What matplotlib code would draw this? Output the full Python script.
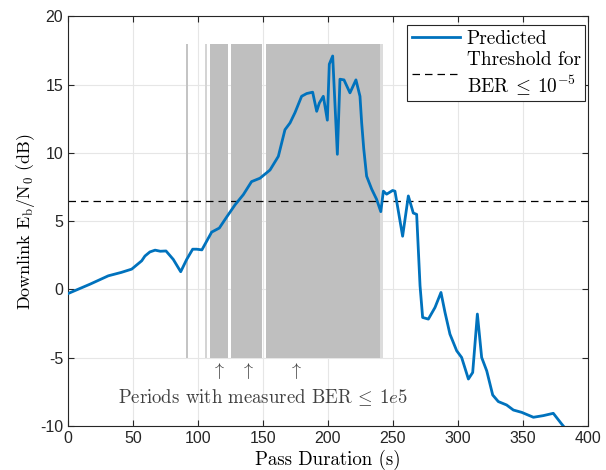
"""Predicted downlink Eb/N0 over a pass, with periods of measured low BER shaded."""
import matplotlib
matplotlib.use("Agg")
import matplotlib.pyplot as plt

plt.rcParams["mathtext.fontset"] = "cm"
plt.rcParams["axes.unicode_minus"] = False

# predicted Eb/N0 curve (s, dB)
t = [0, 17, 31, 41, 49, 56.7, 59.2, 63, 67, 71, 75.4, 81, 86.7, 91.3, 95.9, 99,
     103, 110.5, 116.4, 122, 128.5, 134.9, 141.2, 147.7, 155.4, 161.8, 166.9,
     170.8, 174.6, 179.7, 183.6, 188.2, 191.3, 193.3, 196.4, 199.5, 201.0, 203.6,
     207.2, 209.2, 212.3, 216.9, 221.5, 224.6, 225.9, 227.5, 229.7, 233.6, 237.4,
     240.6, 242.6, 245.1, 249.7, 251.5, 257.4, 261.8, 265.6, 268.2, 270.8, 272.8,
     277.2, 282.3, 286.9, 290, 293.8, 299, 302.8, 308, 311.3, 314.9, 318.2, 322.1,
     326.7, 331, 337.4, 342.6, 349, 358, 365.6, 373.3, 379.7, 381]
ebn0 = [-0.3, 0.39, 1.0, 1.25, 1.49, 2.1, 2.45, 2.75, 2.88, 2.8, 2.82, 2.2, 1.3,
        2.2, 2.95, 2.95, 2.9, 4.2, 4.5, 5.3, 6.2, 6.95, 7.9, 8.15, 8.75, 9.75,
        11.7, 12.2, 12.95, 14.15, 14.35, 14.45, 13.05, 13.65, 14.15, 12.4, 16.5,
        17.1, 9.9, 15.4, 15.35, 14.4, 15.35, 14.15, 12.2, 10.3, 8.3, 7.35, 6.6,
        5.7, 7.2, 6.98, 7.25, 7.2, 3.9, 6.85, 5.6, 5.5, 0.27, -2.05, -2.17, -1.32,
        -0.22, -1.68, -3.27, -4.49, -4.98, -6.56, -6.08, -1.8, -4.98, -5.96, -7.73,
        -8.21, -8.46, -8.83, -9.0, -9.36, -9.24, -9.07, -9.85, -10.0]

threshold = 6.5

# periods with measured BER below limit: (start, end, shade)
ber_start = [91.0, 105.5, 109.4, 125.3, 152.4, 240.0]
ber_end = [92.6, 106.6, 123.3, 149.4, 240.0, 242.5]
ber_shade = ["#c4c4c4", "#d4d4d4", "#bfbfbf", "#bfbfbf", "#bfbfbf", "#dcdcdc"]
shade_lo, shade_hi = -5, 18

arrow_x = [115.7, 137.7, 174.8]

fig = plt.figure(figsize=(6.06, 4.70), dpi=100)
ax = fig.add_axes([0.1122, 0.0936, 0.8581, 0.8715])

for s, e, c in zip(ber_start, ber_end, ber_shade):
    ax.fill_between([s, e], shade_lo, shade_hi, color=c, lw=0, zorder=1)

ax.plot(t, ebn0, color="#0072BD", lw=2, label="Predicted", zorder=3)
ax.axhline(threshold, color="black", lw=0.9, ls=(0, (6, 4)),
           label="Threshold for\n$\\mathrm{BER}\\:\\leq\\:10^{-5}$", zorder=2)

for xa in arrow_x:
    ax.text(xa, -5.95, r"$\uparrow$", ha="center", va="center", fontsize=13,
            color="#404040")
ax.text(150, -7.9, r"Periods with measured $\mathrm{BER}\:\leq\:1e5$", ha="center",
        va="center", fontsize=13.5, family="cmr10", color="#404040")

ax.set_xlim(0, 400)
ax.set_ylim(-10, 20)
ax.set_xticks(range(0, 401, 50))
ax.set_yticks(range(-10, 21, 5))
ax.grid(color="#e6e6e6", lw=0.8, zorder=0)
ax.set_axisbelow(True)
ax.tick_params(direction="in", top=True, right=True, length=4, color="#262626",
               labelsize=11.5)
for lab in ax.get_xticklabels() + ax.get_yticklabels():
    lab.set_family("Liberation Sans")
    lab.set_color("#262626")
for sp in ax.spines.values():
    sp.set_color("#262626")
    sp.set_linewidth(0.8)

ax.set_xlabel("Pass Duration (s)", family="cmr10", fontsize=13.6, labelpad=3)
ax.set_ylabel(r"Downlink $\mathrm{E_b/N_0}$ (dB)", family="cmr10", fontsize=13,
              labelpad=2)

leg = ax.legend(loc="upper right", bbox_to_anchor=(0.995, 0.978), fancybox=False,
                edgecolor="#262626", framealpha=1, handlelength=2.5,
                borderaxespad=0, handletextpad=0.35, borderpad=0.25,
                labelspacing=0.15, prop={"family": "cmr10", "size": 13.9})
leg.get_frame().set_linewidth(0.8)

plt.savefig("out.png", dpi=100)
plt.close()
